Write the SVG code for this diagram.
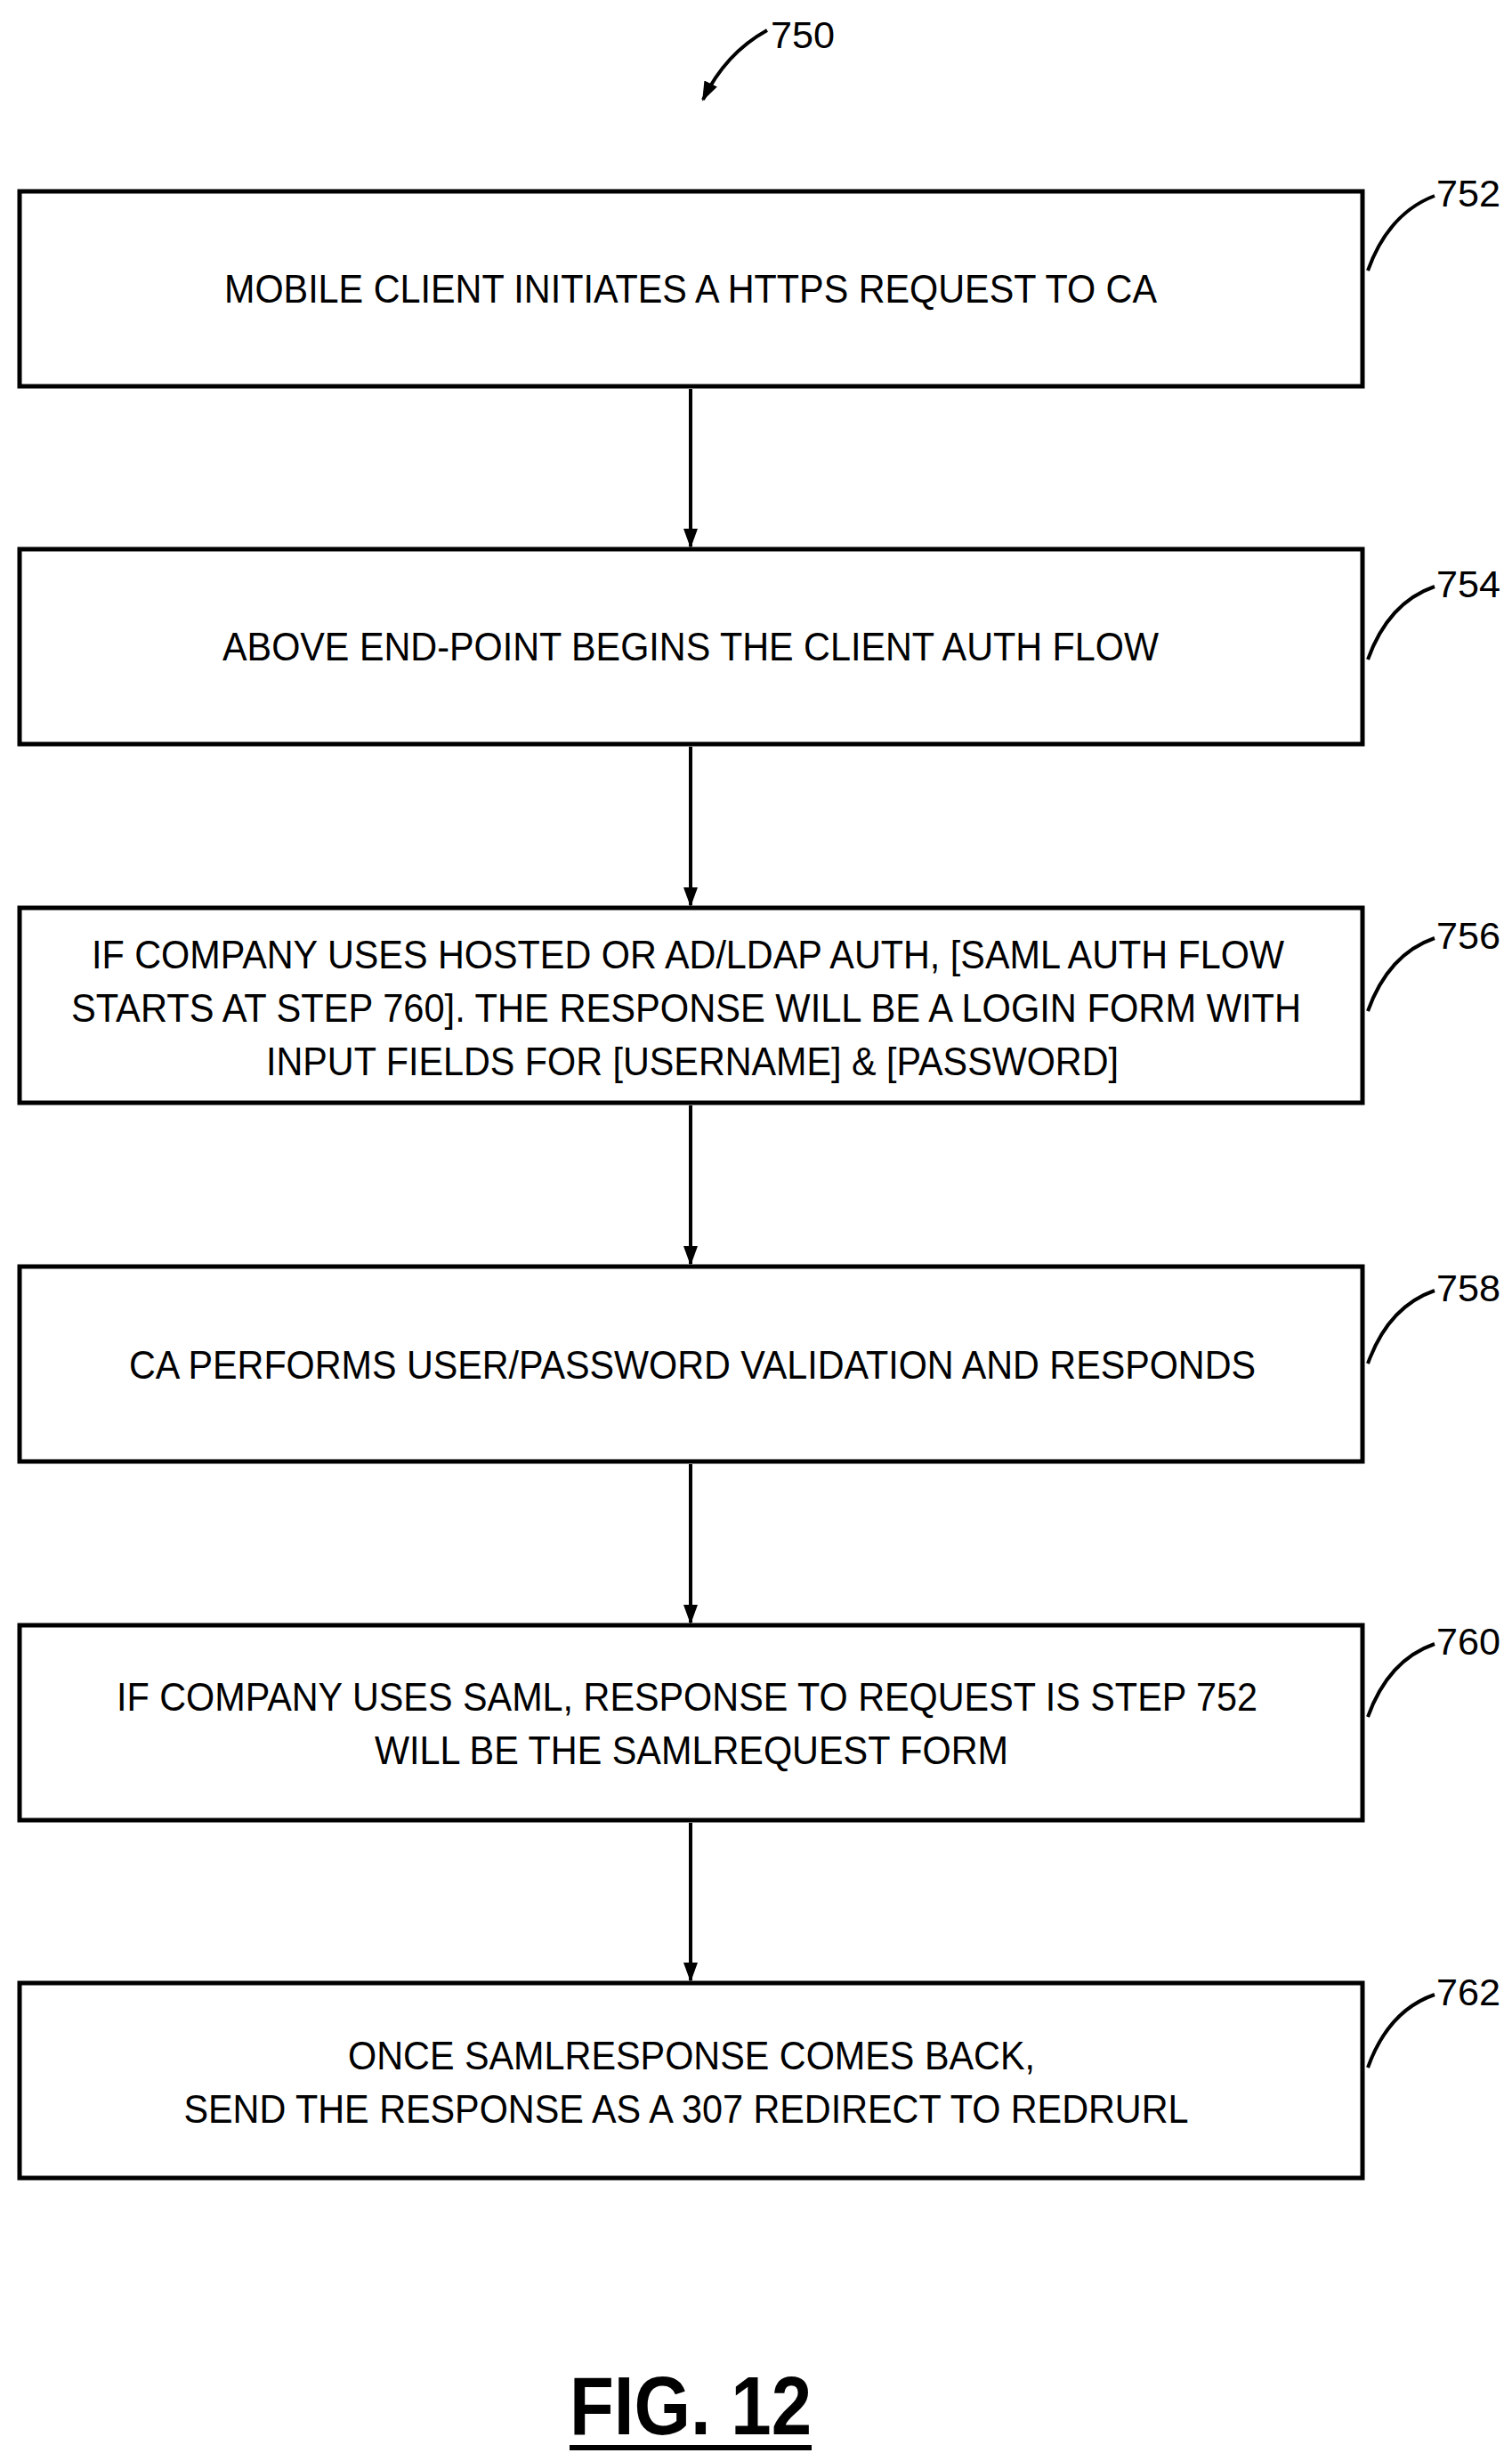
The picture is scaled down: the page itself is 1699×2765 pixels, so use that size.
<svg xmlns="http://www.w3.org/2000/svg" width="1699" height="2765" viewBox="0 0 1699 2765">
<style>
.box{fill:#fff;stroke:#000;stroke-width:5}
.t{font-family:"Liberation Sans",Arial,sans-serif;font-size:44px;text-anchor:middle;fill:#000}
.lbl{font-family:"Liberation Sans",Arial,sans-serif;font-size:42px;fill:#000}
.ld{fill:none;stroke:#000;stroke-width:4}
.c{stroke:#000;stroke-width:4;fill:none}
</style>
<defs><marker id="ah" markerWidth="10" markerHeight="10" refX="9" refY="5" orient="auto" markerUnits="userSpaceOnUse" viewBox="0 0 10 10"><path d="M0,0 L10,5 L0,10 z" fill="#000"/></marker>
<marker id="a2" markerWidth="24" markerHeight="24" refX="20" refY="12" orient="auto" markerUnits="userSpaceOnUse"><path d="M0,4 L22,12 L0,20 z" fill="#000"/></marker></defs>
<g id="ref750"><text class="lbl" x="866" y="54" textLength="72" lengthAdjust="spacingAndGlyphs">750</text><path class="ld" d="M862,34 Q815,60 790,112" marker-end="url(#a2)"/></g>
<g id="n752"><rect class="box" x="22" y="215" width="1509" height="219"/><text class="t" x="776" y="340" textLength="1048" lengthAdjust="spacingAndGlyphs">MOBILE CLIENT INITIATES A HTTPS REQUEST TO CA</text><text class="lbl" x="1614" y="232" textLength="72" lengthAdjust="spacingAndGlyphs">752</text><path class="ld" d="M1537,304 Q1560,240 1612,220"/></g>
<g id="n754"><rect class="box" x="22" y="617" width="1509" height="219"/><text class="t" x="776" y="742" textLength="1052" lengthAdjust="spacingAndGlyphs">ABOVE END-POINT BEGINS THE CLIENT AUTH FLOW</text><text class="lbl" x="1614" y="671" textLength="72" lengthAdjust="spacingAndGlyphs">754</text><path class="ld" d="M1537,741 Q1560,677 1612,659"/></g>
<g id="n756"><rect class="box" x="22" y="1020" width="1509" height="219"/>
<text class="t" x="773" y="1088" textLength="1340" lengthAdjust="spacingAndGlyphs">IF COMPANY USES HOSTED OR AD/LDAP AUTH, [SAML AUTH FLOW</text>
<text class="t" x="771" y="1148" textLength="1382" lengthAdjust="spacingAndGlyphs">STARTS AT STEP 760].  THE RESPONSE WILL BE A LOGIN FORM WITH</text>
<text class="t" x="778" y="1208" textLength="958" lengthAdjust="spacingAndGlyphs">INPUT FIELDS FOR [USERNAME] &amp; [PASSWORD]</text>
<text class="lbl" x="1614" y="1066" textLength="72" lengthAdjust="spacingAndGlyphs">756</text><path class="ld" d="M1537,1136 Q1560,1072 1612,1054"/></g>
<g id="n758"><rect class="box" x="22" y="1423" width="1509" height="219"/><text class="t" x="778" y="1549" textLength="1266" lengthAdjust="spacingAndGlyphs">CA PERFORMS USER/PASSWORD VALIDATION AND RESPONDS</text><text class="lbl" x="1614" y="1462" textLength="72" lengthAdjust="spacingAndGlyphs">758</text><path class="ld" d="M1537,1532 Q1560,1468 1612,1450"/></g>
<g id="n760"><rect class="box" x="22" y="1826" width="1509" height="219"/>
<text class="t" x="772" y="1922" textLength="1282" lengthAdjust="spacingAndGlyphs">IF COMPANY USES SAML, RESPONSE TO REQUEST IS STEP 752</text>
<text class="t" x="777" y="1982" textLength="712" lengthAdjust="spacingAndGlyphs">WILL BE THE SAMLREQUEST FORM</text>
<text class="lbl" x="1614" y="1859" textLength="72" lengthAdjust="spacingAndGlyphs">760</text><path class="ld" d="M1537,1929 Q1560,1865 1612,1847"/></g>
<g id="n762"><rect class="box" x="22" y="2228" width="1509" height="219"/>
<text class="t" x="777" y="2325" textLength="772" lengthAdjust="spacingAndGlyphs">ONCE SAMLRESPONSE COMES BACK,</text>
<text class="t" x="771" y="2385" textLength="1129" lengthAdjust="spacingAndGlyphs">SEND THE RESPONSE AS A 307 REDIRECT TO REDRURL</text>
<text class="lbl" x="1614" y="2253" textLength="72" lengthAdjust="spacingAndGlyphs">762</text><path class="ld" d="M1537,2323 Q1560,2259 1612,2241"/></g>
<g id="connectors">
<line class="c" x1="776" y1="437" x2="776" y2="614" marker-end="url(#a2)"/>
<line class="c" x1="776" y1="839" x2="776" y2="1017" marker-end="url(#a2)"/>
<line class="c" x1="776" y1="1242" x2="776" y2="1420" marker-end="url(#a2)"/>
<line class="c" x1="776" y1="1645" x2="776" y2="1823" marker-end="url(#a2)"/>
<line class="c" x1="776" y1="2048" x2="776" y2="2225" marker-end="url(#a2)"/>
</g>
<g id="fig"><text x="776" y="2735" text-anchor="middle" font-family="Liberation Sans,Arial,sans-serif" font-weight="bold" font-size="92" textLength="272" lengthAdjust="spacingAndGlyphs">FIG. 12</text><line x1="640" y1="2750" x2="912" y2="2750" stroke="#000" stroke-width="6"/></g>
</svg>
